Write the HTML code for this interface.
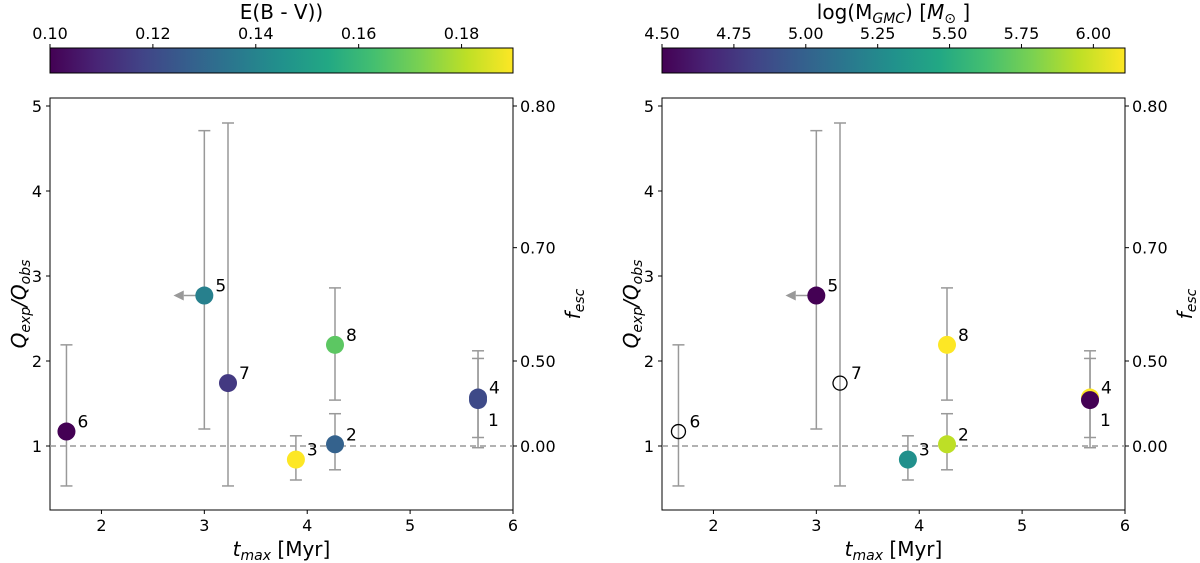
<!DOCTYPE html>
<html><head><meta charset="utf-8">
<style>
body{margin:0;background:#fff;}
svg{display:block;font-family:"DejaVu Sans","Liberation Sans",sans-serif;}
</style></head>
<body>
<svg id="fig" width="1200" height="563" viewBox="0 0 1200 563">
<defs>
<linearGradient id="vir" x1="0" x2="1" y1="0" y2="0">
<stop offset="0" stop-color="#440154"/><stop offset="0.1" stop-color="#482475"/><stop offset="0.2" stop-color="#414487"/><stop offset="0.3" stop-color="#355f8d"/><stop offset="0.4" stop-color="#2a788e"/><stop offset="0.5" stop-color="#21918c"/><stop offset="0.6" stop-color="#22a884"/><stop offset="0.7" stop-color="#44bf70"/><stop offset="0.8" stop-color="#7ad151"/><stop offset="0.9" stop-color="#bddf26"/><stop offset="1" stop-color="#fde725"/>
</linearGradient>
</defs>
</svg>
<script>
const labels=["6","5","7","3","2","8","4","1"];
const tmax=[1.66,3.0,3.23,3.89,4.27,4.27,5.66,5.66];
const ratio=[1.17,2.77,1.74,0.84,1.02,2.19,1.57,1.54];
const errLo=[0.53,1.2,0.53,0.6,0.72,1.54,1.1,0.98];
const errHi=[2.19,4.71,4.8,1.12,1.38,2.86,2.12,2.03];
const ebv=[0.10,0.139,0.115,0.19,0.128,0.167,0.12,0.12];
const logM=[null,4.5,null,5.3,5.95,6.11,6.11,4.5];
const upperLimit=[false,true,false,false,false,false,false,false];
const xTicks=[2,3,4,5,6];
const yTicks=[1,2,3,4,5];
const fTicks=[0.00,0.50,0.70,0.80];
const cb1Ticks=[0.10,0.12,0.14,0.16,0.18];
const cb2Ticks=[4.50,4.75,5.00,5.25,5.50,5.75,6.00];
const NS="http://www.w3.org/2000/svg";
const svg=document.getElementById('fig');
const vir=["#440154","#482475","#414487","#355f8d","#2a788e","#21918c","#22a884","#44bf70","#7ad151","#bddf26","#fde725"];
function hex(c){return [1,3,5].map(i=>parseInt(c.substr(i,2),16));}
function cmap(t){t=Math.max(0,Math.min(1,t));const p=t*10,i=Math.min(9,Math.floor(p)),f=p-i;const a=hex(vir[i]),b=hex(vir[i+1]);return 'rgb('+a.map((v,k)=>Math.round(v+(b[k]-v)*f)).join(',')+')';}
function el(tag,attrs,txt){const e=document.createElementNS(NS,tag);for(const k in attrs)e.setAttribute(k,attrs[k]);if(txt!==undefined)e.textContent=txt;svg.appendChild(e);return e;}
function panel(ox,cvals,cmin,cmax,cbTicks,cbTitleHtml,pname){
  const L=ox+50,R=ox+513,T=98,B=510;
  const X=v=>L+(v-1.5)*(R-L)/4.5;
  const Y=v=>531-v*85;
  let r=el('rect',{x:L,y:48,width:R-L,height:25,fill:'url(#vir)',stroke:'#000','stroke-width':1});
  
  
  const CX=v=>L+(v-cmin)*(R-L)/(cmax-cmin);
  cbTicks.forEach(v=>{const x=CX(v);el('line',{x1:x,x2:x,y1:48,y2:44,stroke:'#000'});
    let t=el('text',{x:x,y:39,'text-anchor':'middle','font-size':16},v.toFixed(2));
    
    });
  let ct=el('text',{x:(L+R)/2,y:19,'text-anchor':'middle','font-size':20});ct.innerHTML=cbTitleHtml;
  
  
  let fr=el('rect',{x:L,y:T,width:R-L,height:B-T,fill:'none',stroke:'#000','stroke-width':1});
  
  
  xTicks.forEach(v=>{const x=X(v);el('line',{x1:x,x2:x,y1:B,y2:B+4,stroke:'#000'});
    let t=el('text',{x:x,y:B+21,'text-anchor':'middle','font-size':16},v);
    
    });
  yTicks.forEach(v=>{const y=Y(v);el('line',{x1:L,x2:L-4,y1:y,y2:y,stroke:'#000'});
    let t=el('text',{x:L-8,y:y+6,'text-anchor':'end','font-size':16},v);
    
    });
  fTicks.forEach(f=>{const y=Y(1/(1-f));el('line',{x1:R,x2:R+4,y1:y,y2:y,stroke:'#000'});
    let t=el('text',{x:R+7,y:y+6,'font-size':16},f.toFixed(2));
    
    });
  let xl=el('text',{x:(L+R)/2,y:B+46,'text-anchor':'middle','font-size':20});
  xl.innerHTML='<tspan font-style="italic">t</tspan><tspan font-style="italic" font-size="14" dy="4">max</tspan><tspan dy="-4"> [Myr]</tspan>';
  
  
  let yl=el('text',{x:0,y:0,'text-anchor':'middle','font-size':20,transform:`translate(${L-24},${(T+B)/2}) rotate(-90)`});
  yl.innerHTML='<tspan font-style="italic">Q</tspan><tspan font-style="italic" font-size="14" dy="4">exp</tspan><tspan font-style="italic" dy="-4">/Q</tspan><tspan font-style="italic" font-size="14" dy="4">obs</tspan>';
  
  
  let fl=el('text',{x:0,y:0,'text-anchor':'middle','font-size':20,transform:`translate(${R+67},${(T+B)/2}) rotate(-90)`});
  fl.innerHTML='<tspan font-style="italic">f</tspan><tspan font-style="italic" font-size="14" dy="4">esc</tspan>';
  
  
  let dl=el('line',{x1:L,x2:R,y1:Y(1),y2:Y(1),stroke:'#999','stroke-width':1.5,'stroke-dasharray':'6,4'});
  
  
  tmax.forEach((t,i)=>{const x=X(t),y1=Y(errLo[i]),y2=Y(errHi[i]);
    const g=document.createElementNS(NS,'g');svg.appendChild(g);
    
    
    [[x,x,y1,y2],[x-6,x+6,y1,y1],[x-6,x+6,y2,y2]].forEach(c=>{const l=document.createElementNS(NS,'line');
      l.setAttribute('x1',c[0]);l.setAttribute('x2',c[1]);l.setAttribute('y1',c[2]);l.setAttribute('y2',c[3]);
      l.setAttribute('stroke','#999');l.setAttribute('stroke-width',1.5);g.appendChild(l);});
    if(upperLimit[i]){const y=Y(ratio[i]);
      let a=el('line',{x1:x,x2:X(t-0.2),y1:y,y2:y,stroke:'#999','stroke-width':1.5});
      
      
      let h=el('polygon',{points:`${X(t-0.3)},${y} ${X(t-0.2)},${y-5} ${X(t-0.2)},${y+5}`,fill:'#999'});
      
      }
  });
  tmax.forEach((t,i)=>{const x=X(t),y=Y(ratio[i]);const v=cvals[i];
    const c=v==null?el('circle',{cx:x,cy:y,r:7,fill:'none',stroke:'#000','stroke-width':1.3}):el('circle',{cx:x,cy:y,r:9,fill:cmap((v-cmin)/(cmax-cmin))});
    
    
    const lab=labels[i];let dx=11,dy=-4;if(lab==='1'){dx=10;dy=26;}
    const tx=el('text',{x:x+dx,y:y+dy,'font-size':17},lab);
    
    
  });
}
panel(0,ebv,0.10,0.19,cb1Ticks,'E(B - V))','left');
panel(612,logM,4.5,6.11,cb2Ticks,'log(M<tspan font-size="14" font-style="italic" dy="4">GMC</tspan><tspan dy="-4">) [</tspan><tspan font-style="italic">M</tspan><tspan font-size="14" dy="4">⊙</tspan><tspan dy="-4"> ]</tspan>','right');
</script>
</body></html>
